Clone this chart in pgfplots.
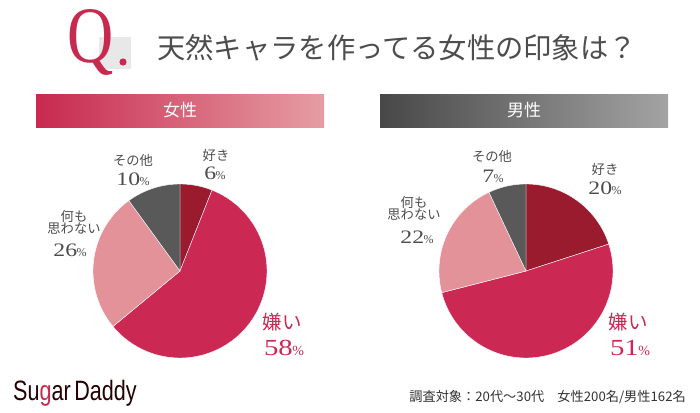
\documentclass[border=0pt]{standalone}
\usepackage{pgfplots}
\pgfplotsset{compat=1.18}
\usepackage{fontspec}
\setmainfont{Noto Sans CJK JP}
\newfontfamily\numfont{Liberation Serif}
\newfontfamily\logofont{Liberation Sans}
\definecolor{cLike}{HTML}{9A1A2E}
\definecolor{cDis}{HTML}{CB2953}
\definecolor{cNone}{HTML}{E39299}
\definecolor{cOther}{HTML}{595959}
\definecolor{txt}{HTML}{4D4D4D}
\definecolor{qred}{HTML}{C8294F}
\newcommand\fs[1]{\fontsize{#1}{#1}\selectfont}
\newcommand\slice[6]{%
  \addplot[draw=white, line width=0.4pt, fill=#6, domain=#4*3.6:#5*3.6, samples=80, variable=\t]
    ({#1 + #3*sin(\t)}, {#2 - #3*cos(\t)}) -- (axis cs:#1,#2) -- cycle;
}
\newcommand\pct[3]{{\numfont\fs{#1}\scalebox{1.25}[1]{#2}\kern-0.5pt{\fs{#3}\%}}}
\begin{document}
\begin{tikzpicture}
\begin{axis}[
  at={(0,0)}, anchor=south west,
  width=700pt, height=412pt, scale only axis,
  xmin=0, xmax=700, ymin=0, ymax=412, y dir=reverse,
  hide axis, clip=false]
\fill[white] (axis cs:0,0) rectangle (axis cs:700,412);
% title
\fill[black!9] (axis cs:99,37) rectangle (axis cs:131,69);
\node[text=qred, font=\numfont\fs{80}, inner sep=0pt, anchor=base] at (axis cs:91,63) {\scalebox{0.8}[1]{Q}};
\fill[qred] (axis cs:123,62) circle[radius=3.6pt];
\node[text=txt, font=\fs{28.3}, inner sep=0pt, anchor=west] at (axis cs:157,48) {天然キャラを作ってる女性の印象は？};
% bars
\shade[left color=qred, right color=cNone!90!white] (axis cs:36,94) rectangle (axis cs:324,127);
\shade[left color=black!72, right color=black!36] (axis cs:380,94) rectangle (axis cs:668,127);
\node[text=white, font=\fs{17}] at (axis cs:180,110.5) {女性};
\node[text=white, font=\fs{17}] at (axis cs:524,110.5) {男性};
% female pie: 6, 58, 26, 10 (cumulative)
\slice{180}{271}{87}{0}{6}{cLike}
\slice{180}{271}{87}{6}{64}{cDis}
\slice{180}{271}{87}{64}{90}{cNone}
\slice{180}{271}{87}{90}{100}{cOther}
% male pie: 20, 51, 22, 7 (cumulative)
\slice{526}{271}{87}{0}{20}{cLike}
\slice{526}{271}{87}{20}{71}{cDis}
\slice{526}{271}{87}{71}{93}{cNone}
\slice{526}{271}{87}{93}{100}{cOther}
% female labels
\node[text=txt, font=\fs{13.3}] at (axis cs:216,155) {好き};
\node[text=txt] at (axis cs:215,173) {\pct{19}{6}{12}};
\node[text=txt, font=\fs{13.3}] at (axis cs:133,160) {その他};
\node[text=txt] at (axis cs:133,179) {\pct{19}{10}{12}};
\node[text=txt, font=\fs{13.3}, align=center, inner sep=0pt] at (axis cs:74,222) {何も\\[-1pt]思わない};
\node[text=txt] at (axis cs:70,250) {\pct{19}{26}{12}};
\node[text=cDis, font=\fs{19.5}] at (axis cs:282,322) {嫌い};
\node[text=cDis] at (axis cs:284,348) {\pct{23}{58}{14}};
% male labels
\node[text=txt, font=\fs{13.3}] at (axis cs:605,169) {好き};
\node[text=txt] at (axis cs:605,188) {\pct{19}{20}{12}};
\node[text=txt, font=\fs{13.3}] at (axis cs:492,156) {その他};
\node[text=txt] at (axis cs:493,176) {\pct{19}{7}{12}};
\node[text=txt, font=\fs{13.3}, align=center, inner sep=0pt] at (axis cs:414,208) {何も\\[-1pt]思わない};
\node[text=txt] at (axis cs:417,237) {\pct{19}{22}{12}};
\node[text=cDis, font=\fs{19.5}] at (axis cs:628,322) {嫌い};
\node[text=cDis] at (axis cs:630,348) {\pct{23}{51}{14}};
% footer
\node[anchor=base west, inner sep=0pt, text=black!85!red, font=\logofont\fs{28}] at (axis cs:13,400)
  {\scalebox{0.77}[1]{Su\textcolor{qred}{g}ar\,Daddy}};
\node[anchor=east, inner sep=0pt, text=black!80, font=\fs{13.2}] at (axis cs:686,397)
  {調査対象：20代～30代\quad 女性200名/男性162名};
\end{axis}
\end{tikzpicture}
\end{document}
